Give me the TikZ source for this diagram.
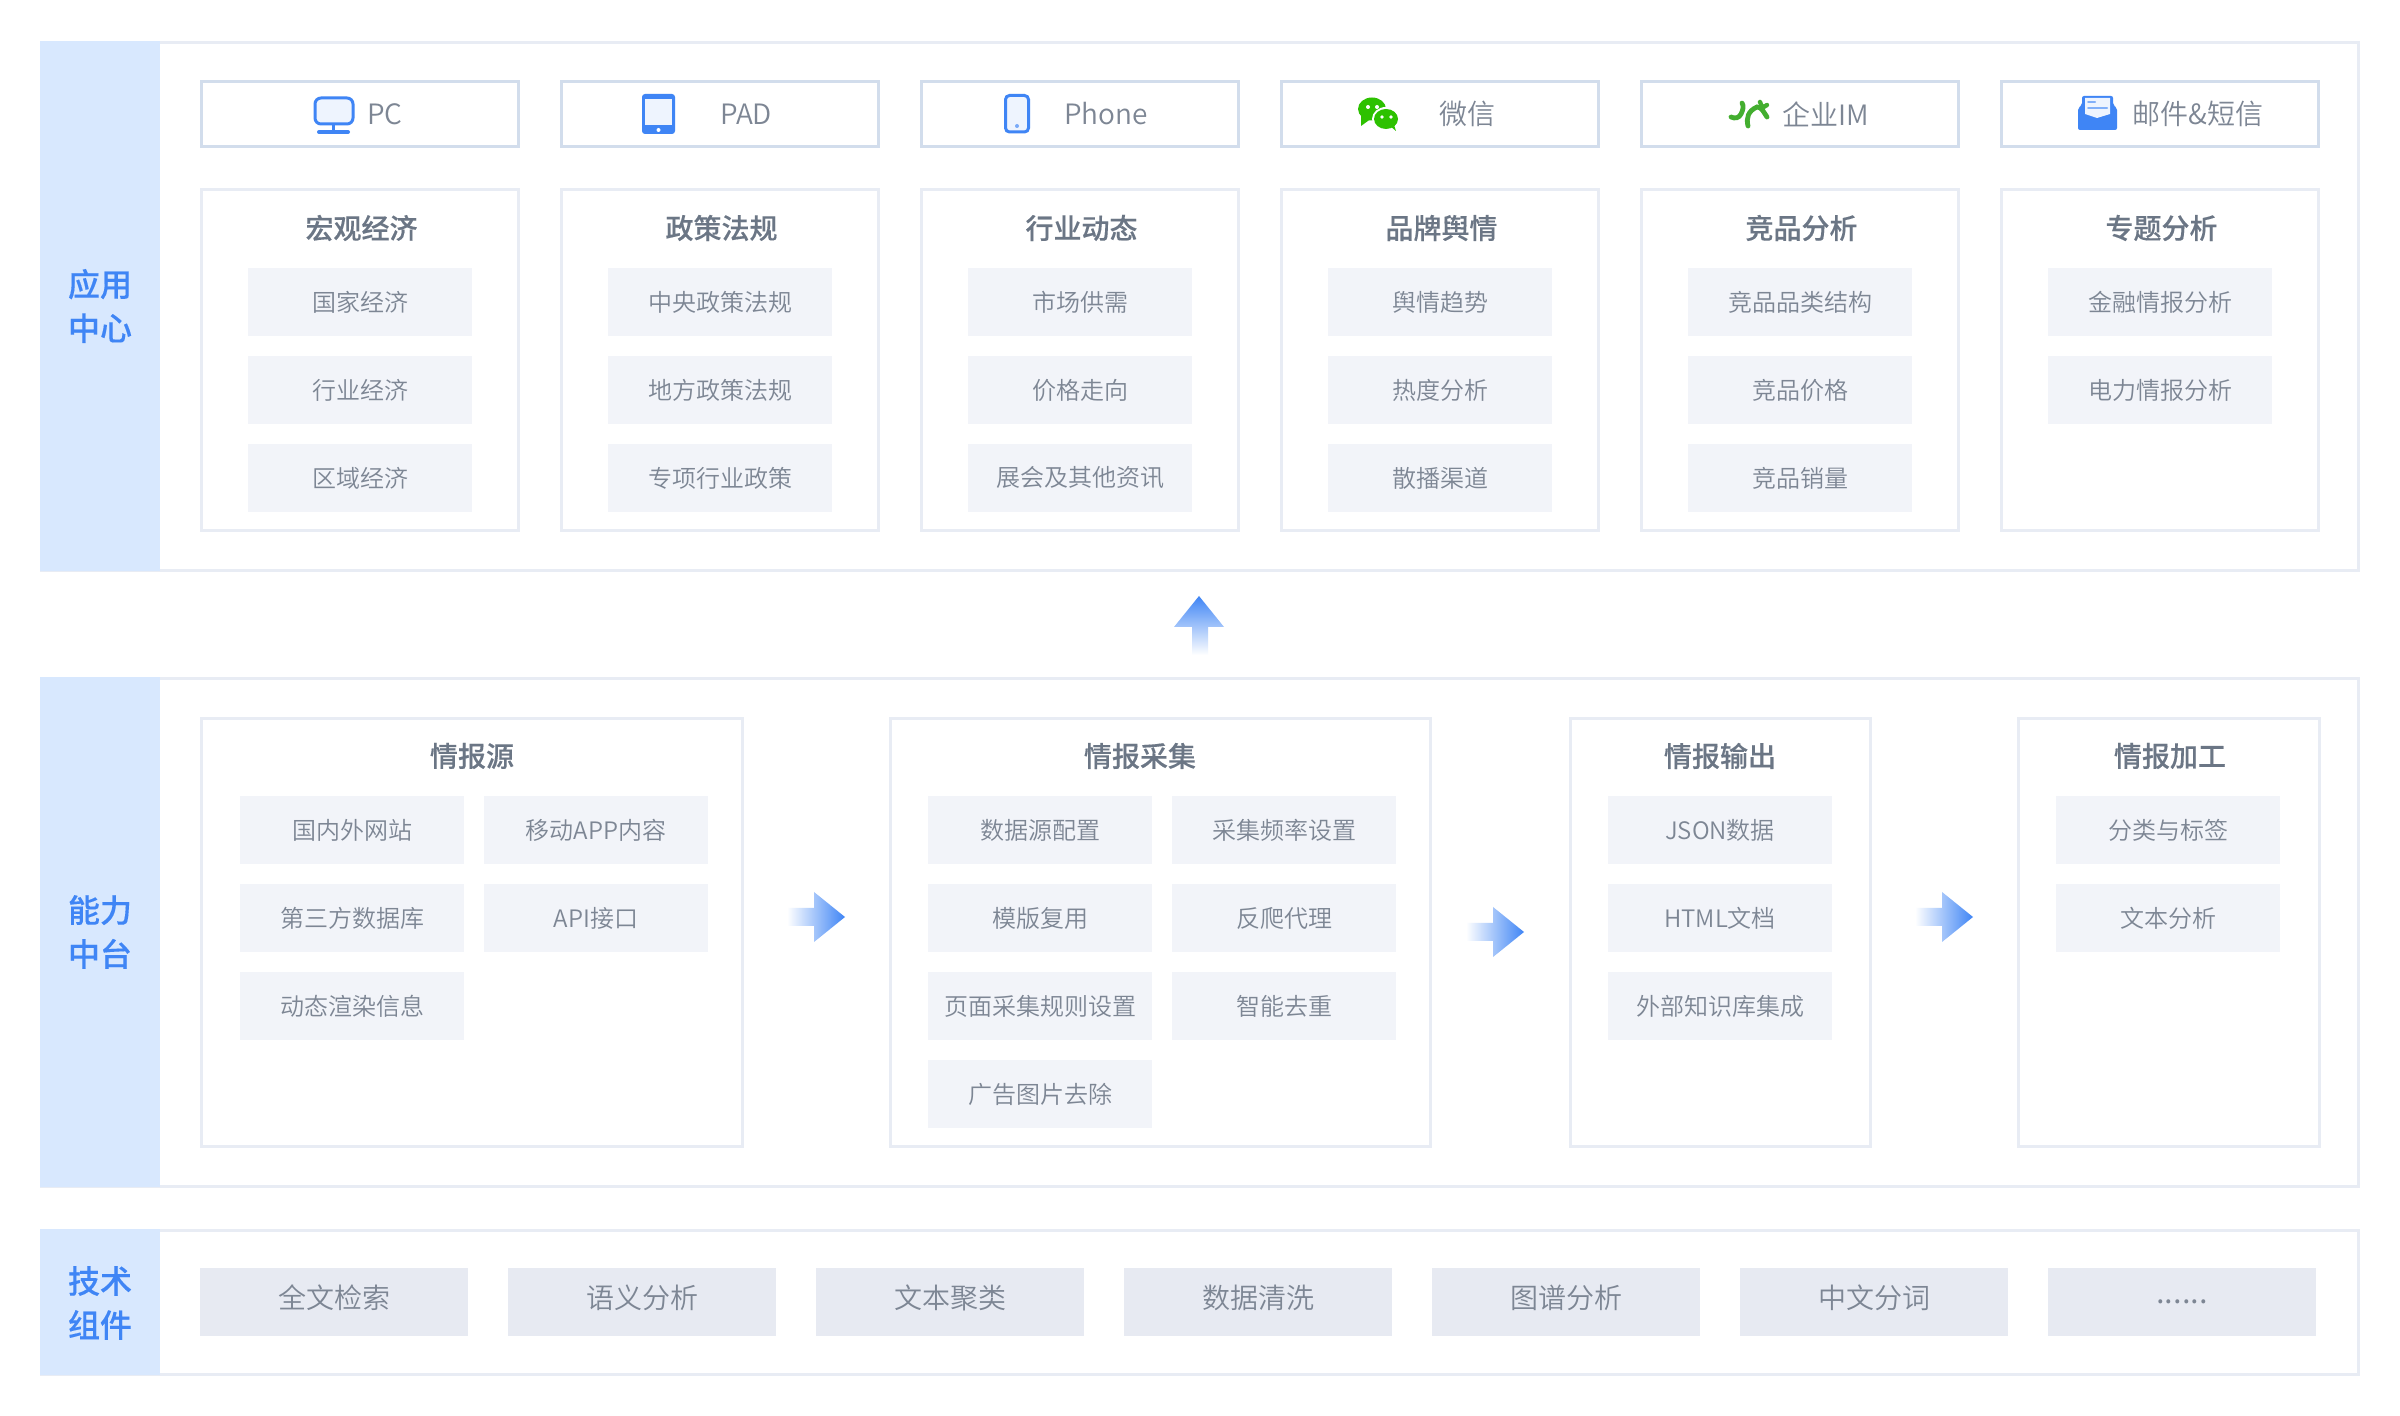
\documentclass[tikz,border=0pt]{standalone}
\usepackage{fontspec}
\setmainfont{Noto Sans CJK SC DemiLight}
\newfontfamily\midfont[FakeBold=0.25]{Noto Sans CJK SC Medium}
\definecolor{bandblue}{HTML}{D8E8FE}
\definecolor{keyblue}{HTML}{3F85F5}
\definecolor{iconfill}{HTML}{EEF4FE}
\definecolor{paneline}{HTML}{E8ECF4}
\definecolor{iconline}{HTML}{D2DDEC}
\definecolor{itemfill}{HTML}{F2F4F9}
\definecolor{techfill}{HTML}{E7EAF2}
\definecolor{bodygray}{HTML}{7D8694}
\definecolor{titlegray}{HTML}{6B7685}
\definecolor{chatgreen}{HTML}{2DC100}
\definecolor{imgreen}{HTML}{43AE2F}
\tikzset{
  panelbox/.style={draw=paneline,line width=1.5pt,fill=white,inner sep=0pt,minimum width=1158.5pt,anchor=north west},
  bandbox/.style={fill=bandblue,inner sep=0pt,minimum width=60pt,anchor=north west},
  bandtext/.style={text=keyblue,inner sep=0pt,align=center,font=\midfont\fontsize{16}{22}\selectfont},
  iconbox/.style={draw=iconline,line width=1.5pt,inner sep=0pt,minimum width=158.5pt,minimum height=32.5pt},
  cardbox/.style={draw=paneline,line width=1.5pt,inner sep=0pt,anchor=north west},
  cardtitle/.style={text=titlegray,inner sep=0pt,font=\midfont\fontsize{14}{14}\selectfont},
  itembox/.style={fill=itemfill,text=bodygray,inner sep=0pt,minimum width=112pt,minimum height=34pt,font=\fontsize{12}{12}\selectfont},
  techbox/.style={fill=techfill,inner sep=0pt,minimum width=134pt,minimum height=34pt,anchor=north west},
  techtext/.style={text=bodygray,inner sep=0pt,font=\fontsize{14}{14}\selectfont},
  icontext/.style={text=bodygray,inner sep=0pt,font=\fontsize{14}{14}\selectfont},
}
\begin{document}
\begin{tikzpicture}[x=0.5pt,y=-0.5pt]
  \useasboundingbox[fill=white] (0,0) rectangle (2400,1416);

  % three layers
  \node[panelbox,minimum height=264pt] (applayer) at (40,41) {};
  \node[panelbox,minimum height=254pt] (corelayer) at (40,677) {};
  \node[panelbox,minimum height=72pt] (techlayer) at (40,1229) {};
  \node[bandbox,minimum height=265pt] (appband) at (40,41) {};
  \node[bandbox,minimum height=255pt] (coreband) at (40,677) {};
  \node[bandbox,minimum height=73pt] (techband) at (40,1229) {};
  \node[bandtext] (applabel) at (100,306) {应用\\中心};
  \node[bandtext] (corelabel) at (100,932) {能力\\中台};
  \node[bandtext] (techlabel) at (100,1303) {技术\\组件};

  % terminals
  \node[iconbox] (pc) at (360,114) {};
  \node[iconbox] (pad) at (720,114) {};
  \node[iconbox] (phone) at (1080,114) {};
  \node[iconbox] (wechat) at (1440,114) {};
  \node[iconbox] (im) at (1800,114) {};
  \node[iconbox] (mail) at (2160,114) {};
  \node[icontext] (pctext) at (385,114) {PC};
  \node[icontext] (padtext) at (746,114) {PAD};
  \node[icontext] (phonetext) at (1106,114) {Phone};
  \node[icontext] (wechattext) at (1467,114) {微信};
  \node[icontext] (imtext) at (1826,114) {企业IM};
  \node[icontext] (mailtext) at (2198,114) {邮件\&短信};

  % monitor
  \draw[keyblue,line width=1.5pt,fill=iconfill,rounded corners=3pt] (315,98) rectangle (353,124);
  \draw[keyblue,line width=1.5pt] (333.5,124) -- (333.5,131);
  \draw[keyblue,line width=2pt,line cap=round] (319,132) -- (348,132);
  % tablet
  \fill[keyblue,rounded corners=1.5pt] (642,94) rectangle (675,134);
  \fill[iconfill] (645,99) rectangle (672,125);
  \fill[white] (658.5,130) circle (2);
  % phone
  \draw[keyblue,line width=1.5pt,fill=iconfill,rounded corners=2pt] (1005.5,95.5) rectangle (1028.5,132);
  \fill[keyblue!70] (1017,126) circle (2);
  % wechat
  \fill[chatgreen] (1372,109) ellipse (14 and 11.5);
  \fill[chatgreen] (1361,114) -- (1361,126) -- (1372,118) -- cycle;
  \fill[white] (1386,119) ellipse (14 and 12);
  \fill[chatgreen] (1386,119) ellipse (12 and 10);
  \fill[chatgreen] (1390,126) -- (1396,131) -- (1393,122) -- cycle;
  \fill[white] (1368,107) circle (2) (1377,107) circle (2);
  \fill[white] (1382,117) circle (1.8) (1391,117) circle (1.8);
  % im
  \draw[imgreen,line width=2.4pt,line cap=round] (1731,117) .. controls (1735,119) and (1739,118) .. (1741,114) .. controls (1743,110) and (1744,106) .. (1742,103);
  \draw[imgreen,line width=2.4pt,line cap=round] (1748,126) .. controls (1746,118) and (1748,111) .. (1757,107) .. controls (1762,107) and (1764,113) .. (1767,117);
  \draw[imgreen,line width=2.2pt,line cap=round] (1760,102) -- (1762,107) (1767,105) -- (1762,108);
  % mail
  \fill[keyblue,rounded corners=1pt] (2078,108) -- (2082,105) -- (2082,96) -- (2113,96) -- (2113,105) -- (2117,108) -- (2117,130) -- (2078,130) -- cycle;
  \fill[iconfill] (2085,98) -- (2110,98) -- (2110,114) -- (2097,118) -- (2085,114) -- cycle;
  \draw[keyblue!65,line width=1pt,line cap=round] (2088,102) -- (2095,102) (2088,108) -- (2107,108);

  % application cards
  \foreach \cx/\name/\ttl/\a/\b/\c in {
      360/macro/宏观经济/国家经济/行业经济/区域经济,
      720/policy/政策法规/中央政策法规/地方政策法规/专项行业政策,
      1080/trend/行业动态/市场供需/价格走向/展会及其他资讯,
      1440/brand/品牌舆情/舆情趋势/热度分析/散播渠道,
      1800/rival/竞品分析/竞品品类结构/竞品价格/竞品销量} {
    \node[cardbox,minimum width=158.5pt,minimum height=170.5pt] (\name) at (\cx-160,188) {};
    \node[cardtitle] (\name title) at (\cx+1.5,228) {\ttl};
    \node[itembox] (\name a) at (\cx,302) {\a};
    \node[itembox] (\name b) at (\cx,390) {\b};
    \node[itembox] (\name c) at (\cx,478) {\c};
  }
  \node[cardbox,minimum width=158.5pt,minimum height=170.5pt] (topic) at (2000,188) {};
  \node[cardtitle] (topic title) at (2161.5,228) {专题分析};
  \node[itembox] (topic a) at (2160,302) {金融情报分析};
  \node[itembox] (topic b) at (2160,390) {电力情报分析};

  % capability cards
  \node[cardbox,minimum width=270.5pt,minimum height=214pt] (source) at (200,717) {};
  \node[cardtitle] (source title) at (472,756) {情报源};
  \node[itembox] (source a) at (352,830) {国内外网站};
  \node[itembox] (source b) at (596,830) {移动APP内容};
  \node[itembox] (source c) at (352,918) {第三方数据库};
  \node[itembox] (source d) at (596,918) {API接口};
  \node[itembox] (source e) at (352,1006) {动态渲染信息};

  \node[cardbox,minimum width=270pt,minimum height=214pt] (collect) at (888.5,717) {};
  \node[cardtitle] (collect title) at (1140,756) {情报采集};
  \node[itembox] (collect a) at (1040,830) {数据源配置};
  \node[itembox] (collect b) at (1284,830) {采集频率设置};
  \node[itembox] (collect c) at (1040,918) {模版复用};
  \node[itembox] (collect d) at (1284,918) {反爬代理};
  \node[itembox] (collect e) at (1040,1006) {页面采集规则设置};
  \node[itembox] (collect f) at (1284,1006) {智能去重};
  \node[itembox] (collect g) at (1040,1094) {广告图片去除};

  \node[cardbox,minimum width=150pt,minimum height=214pt] (output) at (1569,717) {};
  \node[cardtitle] (output title) at (1720,756) {情报输出};
  \node[itembox] (output a) at (1720,830) {JSON数据};
  \node[itembox] (output b) at (1720,918) {HTML文档};
  \node[itembox] (output c) at (1720,1006) {外部知识库集成};

  \node[cardbox,minimum width=150.5pt,minimum height=214pt] (process) at (2017,717) {};
  \node[cardtitle] (process title) at (2170,756) {情报加工};
  \node[itembox] (process a) at (2168,830) {分类与标签};
  \node[itembox] (process b) at (2168,918) {文本分析};

  % technical components
  \foreach \lx/\name/\ttl in {200/search/全文检索,508/semantic/语义分析,816/cluster/文本聚类,1124/clean/数据清洗,1432/graph/图谱分析,1740/segment/中文分词} {
    \node[techbox] (\name) at (\lx,1268) {};
    \node[techtext] (\name text) at (\lx+134,1298) {\ttl};
  }
  \node[techbox] (more) at (2048,1268) {};
  \node[techtext,font=\fontsize{16}{16}\selectfont] (more text) at (2182,1302) {......};

  % block arrows
  \shade[bottom color=white,top color=keyblue] (1199,596) -- (1224,627) -- (1208,627) -- (1208,655) -- (1192,655) -- (1192,627) -- (1174,627) -- cycle;
  \foreach \ax/\ay in {787/917,1466/932,1915/917} {
    \shade[left color=white,right color=keyblue] (\ax+58,\ay) -- (\ax+27,\ay+25) -- (\ax+27,\ay+9) -- (\ax,\ay+9) -- (\ax,\ay-9) -- (\ax+27,\ay-9) -- (\ax+27,\ay-25) -- cycle;
  }
\end{tikzpicture}
\end{document}
